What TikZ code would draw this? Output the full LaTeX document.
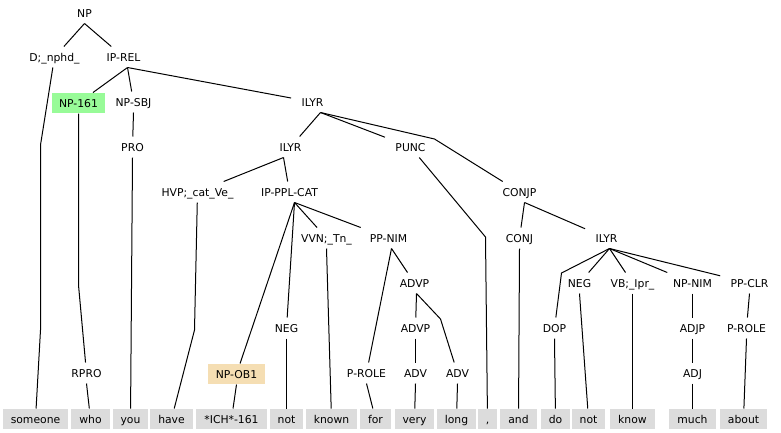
\documentclass[tikz,border=0pt]{standalone}
\usepackage{fontspec}
\setmainfont{DejaVu Sans}
\usetikzlibrary{positioning}
\definecolor{wordgray}{HTML}{DCDCDC}
\definecolor{hlgreen}{HTML}{98FB98}
\definecolor{hlwheat}{HTML}{F5DEB3}
\tikzset{lbl/.style={inner xsep=10pt,inner ysep=0pt,text height=8pt,text depth=0pt,minimum height=20pt}}
\tikzset{word/.style={lbl,fill=wordgray,inner xsep=8pt}}
\tikzset{hl/.style={lbl,inner xsep=7.5pt}}

\begin{document}
\begin{tikzpicture}[x=1pt,y=-1pt,line width=1pt,font=\fontsize{10.8}{13}\selectfont]
    \useasboundingbox (0.5,0) rectangle (781.5,432);
    % phrase labels
    \node[lbl] (np) at (85,13) {NP};
    \node[lbl] (dnphd) at (55,57) {D;\_nphd\_};
    \node[lbl] (iprel) at (124,57) {IP-REL};
    \node[hl,fill=hlgreen] (np161) at (79,103) {NP-161};
    \node[lbl] (npsbj) at (134,102) {NP-SBJ};
    \node[lbl] (ilyra) at (313,102) {ILYR};
    \node[lbl] (pro) at (133,147) {PRO};
    \node[lbl] (ilyrb) at (291,147) {ILYR};
    \node[lbl] (punc) at (411,147) {PUNC};
    \node[lbl] (hvp) at (198,192) {HVP;\_cat\_Ve\_};
    \node[lbl] (ipplcat) at (290,192) {IP-PPL-CAT};
    \node[lbl] (conjp) at (520,192) {CONJP};
    \node[lbl] (vvn) at (327,238) {VVN;\_Tn\_};
    \node[lbl] (ppnim) at (389,238) {PP-NIM};
    \node[lbl] (conj) at (520,238) {CONJ};
    \node[lbl] (ilyrc) at (607,238) {ILYR};
    \node[lbl] (advpa) at (415,283) {ADVP};
    \node[lbl] (negb) at (580,283) {NEG};
    \node[lbl] (vb) at (633,283) {VB;\_Ipr\_};
    \node[lbl] (npnim) at (693,283) {NP-NIM};
    \node[lbl] (ppclr) at (750,283) {PP-CLR};
    \node[lbl] (nega) at (287,328) {NEG};
    \node[lbl] (advpb) at (416,328) {ADVP};
    \node[lbl] (dop) at (555,328) {DOP};
    \node[lbl] (adjp) at (693,328) {ADJP};
    \node[lbl] (prolb) at (747,328) {P-ROLE};
    \node[lbl] (rpro) at (87,373) {RPRO};
    \node[hl,fill=hlwheat] (npob) at (237,374) {NP-OB1};
    \node[lbl] (prola) at (367,373) {P-ROLE};
    \node[lbl] (adva) at (416,373) {ADV};
    \node[lbl] (advb) at (458,373) {ADV};
    \node[lbl] (adj) at (693,373) {ADJ};
    % words
    \node[word] (wsomeone) at (36,419) {someone};
    \node[word] (wwho) at (91,419) {who};
    \node[word] (wyou) at (131,419) {you};
    \node[word] (whave) at (172,419) {have};
    \node[word] (wich) at (232,419) {*ICH*-161};
    \node[word] (wnota) at (287,419) {not};
    \node[word] (wknown) at (332,419) {known};
    \node[word] (wfor) at (376,419) {for};
    \node[word] (wvery) at (415,419) {very};
    \node[word] (wlong) at (457,419) {long};
    \node[word] (wcomma) at (488,419) {,};
    \node[word] (wand) at (519,419) {and};
    \node[word] (wdo) at (556,419) {do};
    \node[word] (wnotb) at (589,419) {not};
    \node[word] (wknow) at (633,419) {know};
    \node[word] (wmuch) at (693,419) {much};
    \node[word] (wabout) at (744,419) {about};
    % branches
    \draw (np.south) -- (dnphd);
    \draw (np.south) -- (iprel);
    \draw (dnphd) -- (41,145) -- (41,330) -- (wsomeone);
    \draw ([xshift=4pt]iprel.south) -- (np161);
    \draw ([xshift=4pt]iprel.south) -- (npsbj);
    \draw ([xshift=4pt]iprel.south) -- (ilyra);
    \draw (np161) -- (79,285) -- (rpro);
    \draw (rpro.south) -- (wwho);
    \draw (npsbj.south) -- (pro);
    \draw (pro.south) -- (wyou);
    \draw ([xshift=8pt]ilyra.south) -- (ilyrb);
    \draw ([xshift=8pt]ilyra.south) -- (punc);
    \draw ([xshift=8pt]ilyra.south) -- (435,139) -- (conjp);
    \draw ([xshift=-7pt]ilyrb.south) -- (hvp);
    \draw ([xshift=-7pt]ilyrb.south) -- (ipplcat);
    \draw (hvp) -- (195,330) -- (whave);
    \draw (punc) -- (486,237) -- (wcomma);
    \draw ([xshift=5pt]ipplcat.south) -- (npob);
    \draw ([xshift=5pt]ipplcat.south) -- (nega);
    \draw ([xshift=5pt]ipplcat.south) -- (vvn);
    \draw ([xshift=5pt]ipplcat.south) -- (ppnim);
    \draw (npob.south) -- (wich);
    \draw (nega.south) -- (wnota);
    \draw (vvn.south) -- (wknown);
    \draw ([xshift=3pt]ppnim.south) -- (prola);
    \draw ([xshift=3pt]ppnim.south) -- (advpa);
    \draw (prola.south) -- (wfor);
    \draw ([xshift=2pt]advpa.south) -- (advpb);
    \draw ([xshift=2pt]advpa.south) -- (441,319) -- (advb);
    \draw (advpb.south) -- (adva);
    \draw (adva.south) -- (wvery);
    \draw (advb.south) -- (wlong);
    \draw ([xshift=5pt]conjp.south) -- (conj);
    \draw ([xshift=5pt]conjp.south) -- (ilyrc);
    \draw (conj.south) -- (wand);
    \draw ([xshift=3pt]ilyrc.south) -- (562,273) -- (dop);
    \draw ([xshift=3pt]ilyrc.south) -- (negb);
    \draw ([xshift=3pt]ilyrc.south) -- (vb);
    \draw ([xshift=3pt]ilyrc.south) -- (npnim);
    \draw ([xshift=3pt]ilyrc.south) -- (ppclr);
    \draw (dop.south) -- (wdo);
    \draw (negb.south) -- (wnotb);
    \draw (vb.south) -- (wknow);
    \draw (npnim.south) -- (adjp);
    \draw (adjp.south) -- (adj);
    \draw (adj.south) -- (wmuch);
    \draw (ppclr.south) -- (prolb);
    \draw (prolb.south) -- (wabout);
\end{tikzpicture}
\end{document}
